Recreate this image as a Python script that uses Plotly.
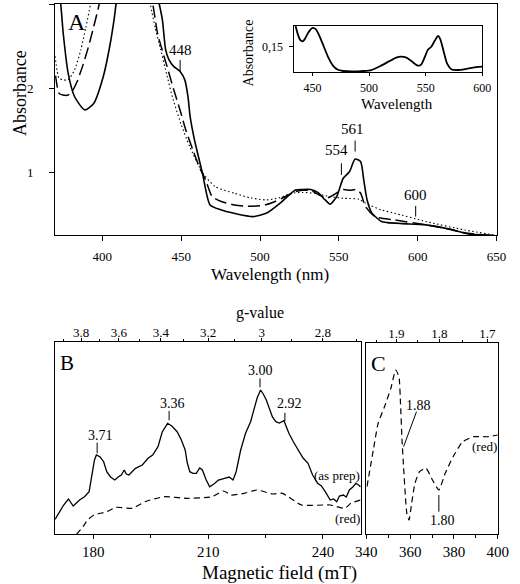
import plotly.graph_objects as go

# ---------------- Panel A : optical spectra ----------------
a_nm_solid = [371, 373.6, 375.2, 378.3, 382.4, 388.8, 394.5, 400.6, 404.6, 407.7, 408.7, 415, 422, 430,
              436.1, 438.1, 440.1, 442.2, 445.2, 449.3, 452.3, 454.3, 455.7, 458.4, 463.4, 468.3, 475,
              483.5, 495.7, 504.2, 513.9, 522.4, 526.1, 532.2, 537, 541.3, 544.5, 548.6, 552.7, 556.7,
              560.3, 563.8, 565.8, 567.9, 571, 577, 580.8, 590, 605.2, 620, 631.9, 650]
a_abs_solid = [3.4, 3.0, 2.65, 2.18, 1.90, 1.744, 1.82, 2.14, 2.49, 2.85, 3.0, 3.6, 3.8, 3.5,
               3.0, 2.81, 2.46, 2.34, 2.26, 2.20, 2.10, 1.90, 1.66, 1.39, 1.0, 0.617, 0.56,
               0.518, 0.478, 0.52, 0.656, 0.795, 0.80, 0.80, 0.76, 0.676, 0.625, 0.716, 0.93, 1.01,
               1.16, 1.13, 0.91, 0.676, 0.52, 0.42, 0.407, 0.395, 0.38, 0.33, 0.273, 0.25]

a_nm_dash = [370.3, 372.5, 375, 378.3, 381.3, 384, 387.4, 391, 394.5, 398, 405, 420, 432, 435, 438,
             441, 445, 449.3, 453, 457.4, 461.4, 465.5, 469.5, 475, 483.7, 492, 502, 508, 514, 522.3,
             527, 532.4, 537, 542.5, 547, 552.7, 557, 560.8, 563.8, 566.9, 573, 585, 605.4, 620,
             631.8, 650]
a_abs_dash = [2.15, 1.94, 1.92, 1.92, 1.98, 2.08, 2.26, 2.48, 2.73, 3.0, 3.8, 4.2, 3.0, 2.65, 2.45,
              2.26, 2.0, 1.74, 1.50, 1.27, 1.07, 0.913, 0.72, 0.66, 0.617, 0.60, 0.61, 0.645, 0.696,
              0.775, 0.79, 0.786, 0.74, 0.70, 0.74, 0.80, 0.79, 0.80, 0.755, 0.597, 0.478, 0.44,
              0.38, 0.33, 0.28, 0.25]

a_nm_dot = [370, 372.5, 375, 378.3, 382.4, 386.4, 389.5, 392.5, 400, 420, 430.4, 433.5, 437, 441,
            445, 450, 455.4, 463.5, 471.5, 483.7, 494, 504, 512, 520, 527, 534.4, 544.5, 552.7,
            562.8, 567, 577, 585, 605.4, 629.7, 650]
a_abs_dot = [2.38, 2.12, 2.10, 2.10, 2.22, 2.46, 2.72, 3.0, 3.8, 4.2, 3.0, 2.72, 2.46, 2.15,
             1.86, 1.57, 1.31, 1.0, 0.834, 0.755, 0.70, 0.676, 0.70, 0.755, 0.765, 0.755, 0.715,
             0.696, 0.684, 0.637, 0.557, 0.52, 0.419, 0.32, 0.255]

a_x_ticks = [400, 450, 500, 550, 600, 650]
a_y_ticks = [1, 2, 3]
a_peaks = ["448", "554", "561", "600"]
a_peak_nm = [449.3, 551.6, 560.3, 598.7]

# inset: difference spectrum
ins_nm = [435, 437, 439, 441, 443, 446, 450, 453, 456, 460, 464, 468, 472, 477, 485, 495, 502, 510,
          518, 524, 528, 533, 538, 543, 546, 549, 552, 555, 558, 561, 563, 566, 569, 573, 578, 585,
          592, 600]
ins_abs = [0.192, 0.175, 0.164, 0.161, 0.165, 0.178, 0.188, 0.185, 0.172, 0.150, 0.128, 0.112,
           0.104, 0.101, 0.100, 0.101, 0.103, 0.111, 0.121, 0.128, 0.130, 0.128, 0.120, 0.112,
           0.114, 0.128, 0.144, 0.150, 0.162, 0.172, 0.165, 0.140, 0.116, 0.104, 0.103, 0.105,
           0.108, 0.110]
ins_x_ticks = [450, 500, 550, 600]

# ---------------- Panel B : EPR low field ----------------
b_field_prep = [170.0, 172.25, 173.5, 174.75, 176.4, 177.7, 178.9, 180.3, 180.8, 181.8, 182.7, 183.5,
                184.5, 185.6, 186.5, 187.3, 188.1, 188.6, 189.3, 191.0, 192.8, 194.3, 195.5, 196.9,
                198.0, 199.4, 200.5, 201.9, 203.0, 204.0, 204.5, 205.2, 206.0, 206.9, 207.8, 208.5,
                209.5, 210.4, 211.5, 212.7, 214.3, 215.5, 216.5, 217.3, 218.5, 219.8, 221.1, 221.9,
                222.8, 223.7, 224.4, 225.2, 226.1, 226.8, 227.7, 228.6, 229.8, 231.1, 232.3, 233.6,
                234.8, 236.1, 237.3, 238.6, 239.6, 240.6, 241.9, 242.8, 243.6, 244.3, 245.3, 246.1,
                246.9, 247.8, 248.6, 249.3, 249.8]
b_sig_prep = [15.0, 29.3, 35.3, 28.3, 34.3, 37.6, 42.6, 74.3, 79.3, 77.3, 72.6, 62.6,
              57.3, 54.3, 57.3, 59.3, 64.3, 60.3, 59.3, 66.0, 69.3, 76.0, 79.3, 87.6,
              102.3, 111.0, 108.3, 102.6, 94.3, 84.3, 72.3, 62.6, 61.0, 61.0, 66.3, 64.3,
              54.3, 47.6, 50.3, 54.3, 56.0, 57.3, 54.3, 62.3, 84.3, 101.3, 112.6, 124.3,
              136.3, 144.3, 140.3, 134.3, 124.3, 117.3, 112.6, 111.3, 113.6, 101.0, 92.3, 84.3,
              76.3, 71.0, 59.3, 51.0, 48.3, 42.6, 34.3, 35.3, 32.6, 38.3, 39.3, 37.3,
              44.3, 47.3, 51.0, 49.3, 47.6]

b_field_red = [175.6, 177.3, 178.5, 180.2, 183.5, 186.0, 190.2, 193.5, 198.5, 204.4, 211.0, 214.0,
               216.0, 219.4, 222.7, 226.9, 229.4, 234.4, 241.9, 245.7, 247.3, 249.8]
b_sig_red = [0.0, 7.6, 14.3, 19.3, 22.6, 27.0, 26.0, 32.6, 37.6, 36.0, 37.6, 43.3,
             39.3, 41.0, 44.3, 40.3, 41.0, 29.3, 29.3, 26.0, 31.0, 34.3]

b_field_ticks = [180, 210, 240]
b_field_minor = [195, 225]
b_g_ticks = [3.8, 3.6, 3.4, 3.2, 3.0, 2.8]
b_g_labels = ["3.8", "3.6", "3.4", "3.2", "3", "2.8"]
b_g_minor = [3.9, 3.7, 3.5, 3.3, 3.1, 2.9, 2.7]
b_peaks = ["3.71", "3.36", "3.00", "2.92"]
b_peak_field = [181.0, 199.8, 223.55, 230.06]

# ---------------- Panel C : EPR high field ----------------
c_field_red = [340.3, 343.2, 345.4, 348.3, 351.2, 353.4, 354.9, 355.6, 356.3, 357.0, 358.5, 359.5,
               360.7, 362.2, 364.3, 367.2, 370.2, 373.1, 376.0, 379.6, 384.0, 389.1, 395.6, 400.0]
c_sig_red = [47.6, 84.3, 111.0, 127.6, 146.0, 164.3, 157.6, 131.0, 94.3, 67.6, 21.0, 14.3,
             31.0, 51.0, 62.6, 66.0, 54.3, 44.3, 61.0, 77.6, 92.6, 97.6, 97.6, 99.3]
c_field_ticks = [340, 360, 380, 400]
c_field_minor = [350, 370, 390]
c_g_ticks = [1.9, 1.8, 1.7]
c_g_minor = [1.95, 1.85, 1.75]

HNU = 672.0  # h*nu/muB in mT, converts g-value to field

FONT = "Liberation Serif"
W, H = 520, 584


def px(x):
    return x / W


def py(y):
    return 1 - y / H


fig = go.Figure()

solid = dict(color="black", width=1.6)
fig.add_trace(go.Scatter(x=a_nm_solid, y=a_abs_solid, mode="lines", line=dict(shape="spline", smoothing=0.6, **solid),
                         xaxis="x", yaxis="y", showlegend=False, hoverinfo="skip"))
fig.add_trace(go.Scatter(x=a_nm_dash, y=a_abs_dash, mode="lines",
                         line=dict(color="black", width=1.5, dash="12px,5px", shape="spline", smoothing=0.6),
                         xaxis="x", yaxis="y", showlegend=False, hoverinfo="skip"))
fig.add_trace(go.Scatter(x=a_nm_dot, y=a_abs_dot, mode="lines",
                         line=dict(color="black", width=1.1, dash="1.5px,2.5px", shape="spline", smoothing=0.6),
                         xaxis="x", yaxis="y", showlegend=False, hoverinfo="skip"))
fig.add_trace(go.Scatter(x=ins_nm, y=ins_abs, mode="lines", line=dict(shape="spline", smoothing=0.6, color="black", width=1.8),
                         xaxis="x2", yaxis="y2", showlegend=False, hoverinfo="skip"))
fig.add_trace(go.Scatter(x=b_field_prep, y=b_sig_prep, mode="lines", line=dict(color="black", width=1.3),
                         xaxis="x3", yaxis="y3", showlegend=False, hoverinfo="skip"))
fig.add_trace(go.Scatter(x=b_field_red, y=b_sig_red, mode="lines",
                         line=dict(color="black", width=1.2, dash="6px,4px", shape="spline", smoothing=0.5),
                         xaxis="x3", yaxis="y3", showlegend=False, hoverinfo="skip"))
fig.add_trace(go.Scatter(x=[], y=[], xaxis="x4", yaxis="y3", showlegend=False, hoverinfo="skip"))
fig.add_trace(go.Scatter(x=c_field_red, y=c_sig_red, mode="lines",
                         line=dict(color="black", width=1.2, dash="6px,4px", shape="spline", smoothing=0.5),
                         xaxis="x5", yaxis="y5", showlegend=False, hoverinfo="skip"))
fig.add_trace(go.Scatter(x=[], y=[], xaxis="x6", yaxis="y5", showlegend=False, hoverinfo="skip"))

ax_common = dict(showgrid=False, zeroline=False, linecolor="black", linewidth=1, tickcolor="black",
                 tickwidth=1, tickfont=dict(family=FONT, size=13, color="black"))


def tf(size):
    return dict(family=FONT, size=size, color="black")


fig.update_layout(
    width=W, height=H, margin=dict(l=0, r=0, t=0, b=0),
    paper_bgcolor="white", plot_bgcolor="white",
    font=dict(family=FONT, color="black"),
    xaxis=dict(domain=[px(46), px(507)], range=[370, 650], anchor="y", tickvals=a_x_ticks,
               ticks="outside", ticklen=5, showline=True, mirror=True, ticklabelstandoff=4,
               **{**ax_common, "tickfont": tf(13)}),
    yaxis=dict(domain=[py(235), py(4)], range=[0.26, 3], anchor="x", tickvals=a_y_ticks,
               ticks="outside", ticklen=5, showline=True, mirror=True, ticklabelstandoff=13, **ax_common),
    xaxis2=dict(domain=[px(296), px(492)], range=[434, 600], anchor="y2", tickvals=ins_x_ticks,
                ticks="outside", ticklen=3, showline=True, mirror=True, ticklabelstandoff=2,
                **{**ax_common, "tickfont": tf(12)}),
    yaxis2=dict(domain=[py(72), py(26)], range=[0.099, 0.192], anchor="x2", tickvals=[0.15], ticktext=["0,15"],
                ticks="outside", ticklen=4, showline=True, mirror=True, ticklabelstandoff=4,
                **{**ax_common, "tickfont": tf(12)}),
    xaxis3=dict(domain=[px(46), px(365.7)], range=[170, 250], anchor="y3", tickvals=b_field_ticks,
                ticks="outside", ticklen=4, showline=True, mirror=True,
                minor=dict(tickvals=b_field_minor, ticks="outside", ticklen=3, tickcolor="black"),
                **{**ax_common, "tickfont": tf(15)}),
    yaxis3=dict(domain=[py(534.3), py(342.3)], range=[0, 192], anchor="x3", showticklabels=False,
                ticks="", showline=True, mirror=True, **ax_common),
    xaxis4=dict(overlaying="x3", anchor="y3", side="top", range=[170, 250],
                tickvals=[HNU / g for g in b_g_ticks], ticktext=b_g_labels,
                ticks="outside", ticklen=3, showline=False, ticklabelstandoff=-4,
                minor=dict(tickvals=[HNU / g for g in b_g_minor], ticks="outside", ticklen=2, tickcolor="black"),
                **ax_common),
    xaxis5=dict(domain=[px(371), px(508.3)], range=[340, 400], anchor="y5", tickvals=c_field_ticks,
                ticks="outside", ticklen=4, showline=True, mirror=True,
                minor=dict(tickvals=c_field_minor, ticks="outside", ticklen=3, tickcolor="black"),
                **{**ax_common, "tickfont": tf(15)}),
    yaxis5=dict(domain=[py(534.3), py(343.3)], range=[0, 191], anchor="x5", showticklabels=False,
                ticks="", showline=True, mirror=True, **ax_common),
    xaxis6=dict(overlaying="x5", anchor="y5", side="top", range=[340, 400],
                tickvals=[HNU / g for g in c_g_ticks], ticktext=[str(g) for g in c_g_ticks],
                ticks="outside", ticklen=3, showline=False, ticklabelstandoff=-4,
                minor=dict(tickvals=[HNU / g for g in c_g_minor], ticks="outside", ticklen=2, tickcolor="black"),
                **ax_common),
)

ann = []
shapes = []


def txt(text, x, y, size, xref="paper", yref="paper", angle=0):
    ann.append(dict(text=text, x=x, y=y, xref=xref, yref=yref, showarrow=False, textangle=angle,
                    xanchor="center", yanchor="middle", font=dict(family=FONT, size=size, color="black")))


def seg(x0, y0, x1, y1, xref, yref):
    shapes.append(dict(type="line", x0=x0, y0=y0, x1=x1, y1=y1, xref=xref, yref=yref,
                       line=dict(color="black", width=1)))


# axis titles
txt("Absorbance", px(9), py(93.5), 18, angle=-90)
txt("Wavelength (nm)", px(270), py(275), 17)
txt("Absorbance", px(249), py(53), 14, angle=-90)
txt("Wavelength", px(403), py(104), 15)
txt("g-value", px(260), py(313), 16)
txt("Magnetic field (mT)", px(280), py(573), 19)

# panel letters
txt("A", 383.9, 2.79, 24, "x", "y")
txt("B", 173.0, 171, 21, "x3", "y3")
txt("C", 345.4, 171, 22, "x5", "y5")

# panel A peak labels
a_lab_y = [2.455, 1.269, 1.522, 0.732]
a_lab_x = [449.3, 548.7, 558.8, 598.8]
a_tick_y0 = [2.337, 1.111, 1.38, 0.605]
a_tick_y1 = [2.198, 0.973, 1.25, 0.478]
for lab, lx, ly, xt, y0, y1 in zip(a_peaks, a_lab_x, a_lab_y, a_peak_nm, a_tick_y0, a_tick_y1):
    txt(lab, lx, ly, 15, "x", "y")
    seg(xt, y0, xt, y1, "x", "y")

# panel B peak labels
b_lab_x = [182.0, 200.8, 223.75, 231.3]
b_lab_y = [99.3, 131.3, 163.5, 131.0]
b_tick_y0 = [91.6, 123.3, 156.0, 121.6]
b_tick_y1 = [81.0, 114.0, 147.0, 113.0]
for lab, lx, ly, xt, y0, y1 in zip(b_peaks, b_lab_x, b_lab_y, b_peak_field, b_tick_y0, b_tick_y1):
    txt(lab, lx, ly, 14, "x3", "y3")
    seg(xt, y0, xt, y1, "x3", "y3")
txt("(as prep)", 243.6, 59.3, 13, "x3", "y3")
txt("(red)", 246.5, 15.5, 13, "x3", "y3")

# panel C labels
txt("1.88", 363.6, 129.3, 14, "x5", "y5")
seg(362.9, 122.6, 357.0, 87.6, "x5", "y5")
txt("1.80", 374.7, 14.3, 14, "x5", "y5")
seg(373.1, 39.3, 373.1, 22.6, "x5", "y5")
txt("(red)", 394.1, 87.6, 13, "x5", "y5")

fig.update_layout(annotations=ann, shapes=shapes)

fig.write_html("out.html", config={"displayModeBar": False},
               post_script="document.body.style.margin='0';")
